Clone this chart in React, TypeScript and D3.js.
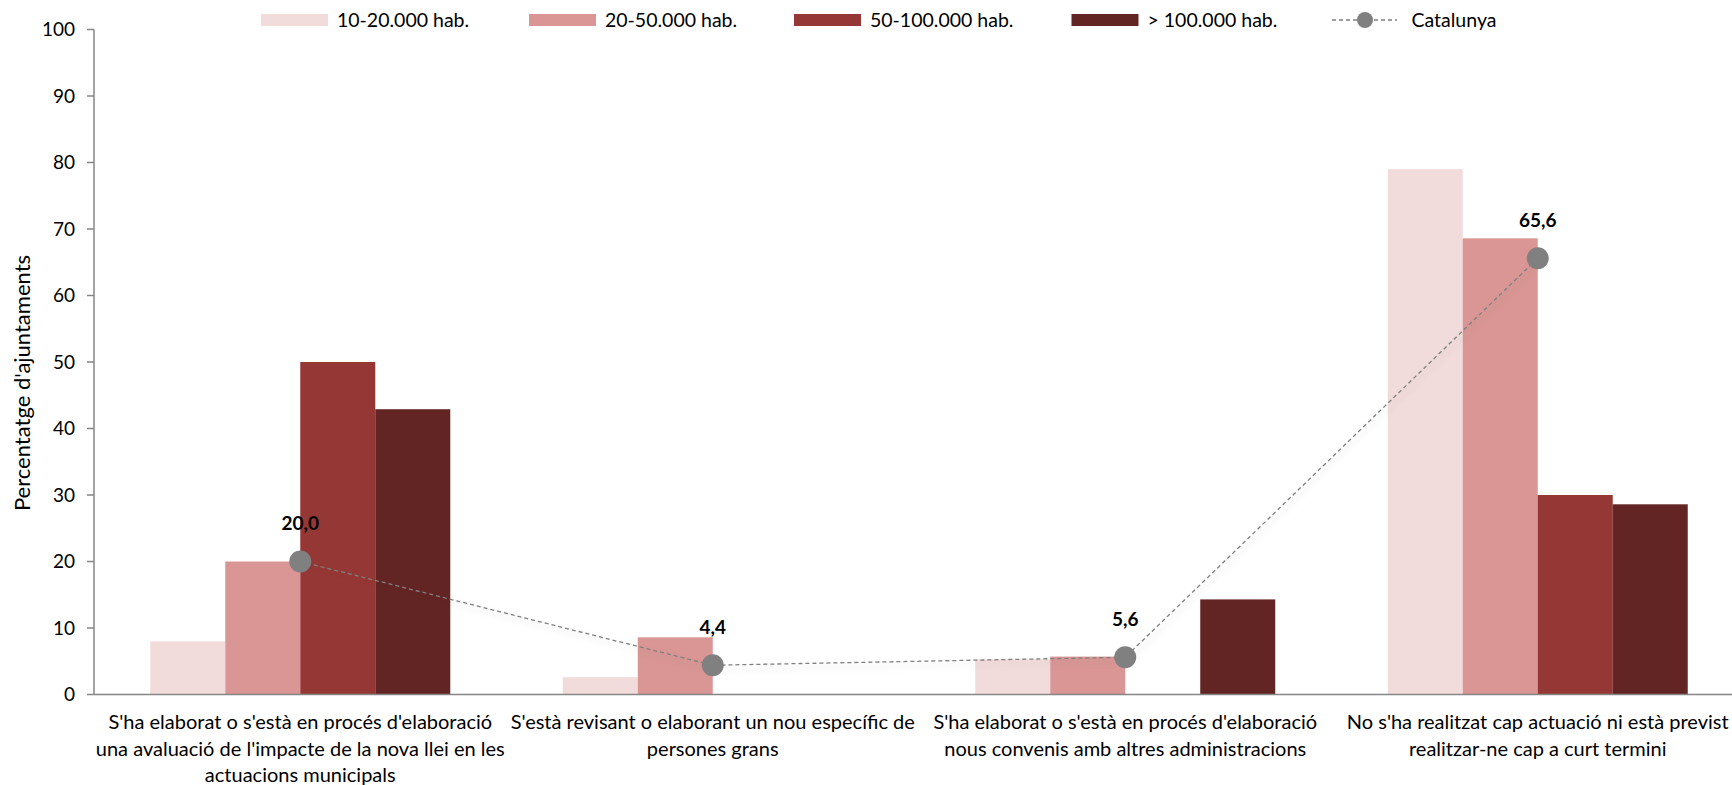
import React, { useEffect } from "react";
import * as d3 from "d3";

const categories = ["c1", "c2", "c3", "c4"];
const categoryLines: string[][] = [
  ["S'ha elaborat o s'està en procés d'elaboració", "una avaluació de l'impacte de la nova llei en les", "actuacions municipals"],
  ["S'està revisant o elaborant un nou específic de", "persones grans"],
  ["S'ha elaborat o s'està en procés d'elaboració", "nous convenis amb altres administracions"],
  ["No s'ha realitzat cap actuació ni està previst", "realitzar-ne cap a curt termini"],
];
const seriesNames = ["10-20.000 hab.", "20-50.000 hab.", "50-100.000 hab.", "> 100.000 hab."];
const seriesColors = ["#F2DCDB", "#D99694", "#953735", "#632523"];
const s1020 = [8.0, 2.6, 5.3, 79.0];
const s2050 = [20.0, 8.6, 5.7, 68.6];
const s50100 = [50.0, 0, 0, 30.0];
const s100 = [42.9, 0, 14.3, 28.6];
const catalunya = [20.0, 4.4, 5.6, 65.6];
const catalunyaName = "Catalunya";
const yTicks = [0, 10, 20, 30, 40, 50, 60, 70, 80, 90, 100];

const W = 1732;
const H = 785;
const FONT = "Lato, 'Open Sans', sans-serif";

export default function App() {
  useEffect(() => {
    document.body.style.margin = "0";
  }, []);

  const series = [s1020, s2050, s50100, s100];
  const x = d3.scaleBand<string>().domain(categories).range([94, 1744]).paddingInner(0.2727).paddingOuter(0.1364);
  const xs = d3.scaleBand<number>().domain(d3.range(series.length)).range([0, x.bandwidth()]);
  const y = d3.scaleLinear().domain([0, 100]).range([694.5, 29.5]);

  const line = d3
    .line<number>()
    .x((_, i) => (x(categories[i]) as number) + x.bandwidth() / 2)
    .y((d) => y(d));

  const legendX = [261, 529, 794, 1071.5];
  const legendY = 20;

  return (
    <svg width={W} height={H} style={{ display: "block", background: "#fff" }} fontFamily={FONT}>
      <defs>
        <filter id="shadow" x="-10%" y="-10%" width="120%" height="140%">
          <feDropShadow dx="2" dy="4" stdDeviation="3" floodColor="#000" floodOpacity="0.18" />
        </filter>
      </defs>

      {/* y axis */}
      <line x1={94} x2={94} y1={y(100)} y2={y(0)} stroke="#868686" strokeWidth={1.5} />
      {yTicks.map((t) => (
        <g key={t}>
          <line x1={87} x2={94} y1={y(t)} y2={y(t)} stroke="#868686" strokeWidth={1.5} />
          <text x={75} y={y(t)} dy="0.35em" textAnchor="end" fontSize={19} fill="#000">
            {t}
          </text>
        </g>
      ))}
      <text
        transform={`translate(22, ${383}) rotate(-90)`}
        textAnchor="middle"
        dy="0.35em"
        fontSize={22}
        fill="#000"
      >
        Percentatge d'ajuntaments
      </text>

      {/* bars */}
      {series.map((vals, si) =>
        vals.map((v, ci) => (
          <rect
            key={`${si}-${ci}`}
            x={(x(categories[ci]) as number) + (xs(si) as number)}
            y={y(v)}
            width={xs.bandwidth()}
            height={y(0) - y(v)}
            fill={seriesColors[si]}
          />
        ))
      )}

      {/* x axis */}
      <line x1={94} x2={W} y1={y(0)} y2={y(0)} stroke="#868686" strokeWidth={1.5} />

      {/* category labels */}
      {categoryLines.map((lines, ci) => (
        <text
          key={ci}
          x={(x(categories[ci]) as number) + x.bandwidth() / 2}
          y={722}
          textAnchor="middle"
          fontSize={20}
          fill="#000"
        >
          {lines.map((l, li) => (
            <tspan key={li} x={(x(categories[ci]) as number) + x.bandwidth() / 2} dy={li === 0 ? "0.35em" : 26.5}>
              {l}
            </tspan>
          ))}
        </text>
      ))}

      {/* Catalunya line */}
      <g filter="url(#shadow)">
        <path d={line(catalunya) as string} fill="none" stroke="#7F7F7F" strokeWidth={1.3} strokeDasharray="4,3" />
      </g>
      {catalunya.map((v, i) => {
        const cx = (x(categories[i]) as number) + x.bandwidth() / 2;
        return (
          <g key={i}>
            <circle cx={cx} cy={y(v)} r={11} fill="#808080" />
            <text x={cx} y={y(v) - 38} dy="0.35em" textAnchor="middle" fontSize={19} fontWeight="bold" fill="#000">
              {d3.format(".1f")(v).replace(".", ",")}
            </text>
          </g>
        );
      })}

      {/* legend */}
      {seriesNames.map((n, i) => (
        <g key={n}>
          <rect x={legendX[i]} y={legendY - 6} width={67} height={12} fill={seriesColors[i]} />
          <text x={legendX[i] + 76} y={legendY} dy="0.35em" fontSize={19.5} fill="#000">
            {n}
          </text>
        </g>
      ))}
      <g>
        <line x1={1332} x2={1397} y1={legendY} y2={legendY} stroke="#7F7F7F" strokeWidth={1.3} strokeDasharray="4,3" />
        <circle cx={1365} cy={legendY} r={8} fill="#808080" />
        <text x={1411.5} y={legendY} dy="0.35em" fontSize={19.5} fill="#000">
          {catalunyaName}
        </text>
      </g>
    </svg>
  );
}
